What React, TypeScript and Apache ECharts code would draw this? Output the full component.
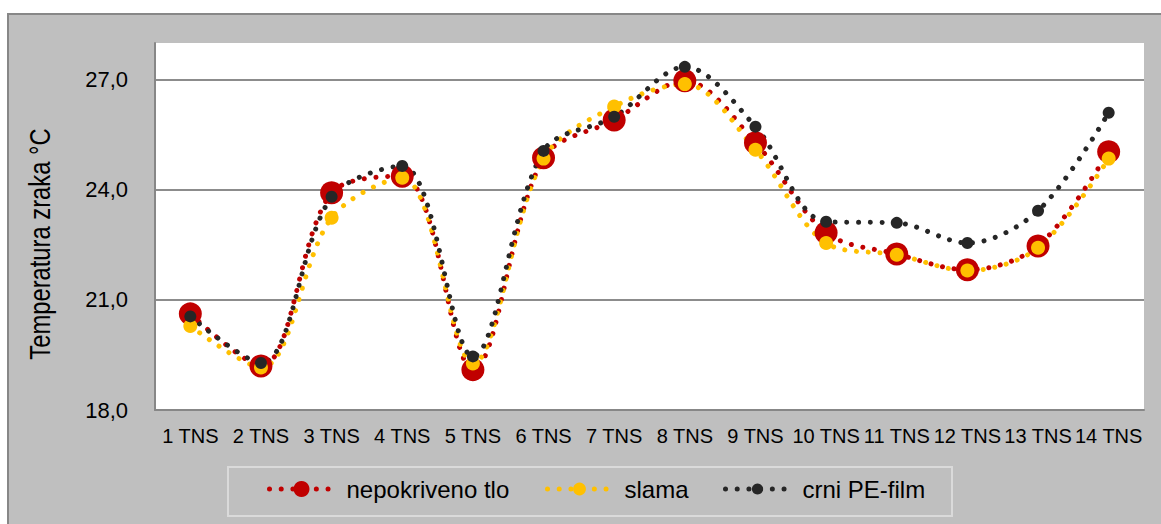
import React, { useEffect, useRef } from "react";
import * as echarts from "echarts";

const categories = ["1 TNS", "2 TNS", "3 TNS", "4 TNS", "5 TNS", "6 TNS", "7 TNS", "8 TNS", "9 TNS", "10 TNS", "11 TNS", "12 TNS", "13 TNS", "14 TNS"];
const nepokriveno = [20.62, 19.2, 23.92, 24.37, 19.1, 24.87, 25.9, 26.97, 25.28, 22.83, 22.25, 21.82, 22.47, 25.04];
const slama = [20.29, 19.16, 23.24, 24.33, 19.27, 24.85, 26.27, 26.88, 25.09, 22.55, 22.23, 21.8, 22.42, 24.85];
const crniPE = [20.55, 19.28, 23.81, 24.65, 19.46, 25.06, 25.99, 27.35, 25.72, 23.13, 23.1, 22.55, 23.43, 26.1];
const seriesNames = ["nepokriveno tlo", "slama", "crni PE-film"];
const seriesColors = ["#c00000", "#ffc000", "#262626"];
const yTitle = "Temperatura zraka °C";

const FONT = "'Liberation Sans', Arial, sans-serif";
const DOTS = [0.01, 11.7];

export default function App() {
  const ref = useRef<HTMLDivElement>(null);
  useEffect(() => {
    if (!ref.current) return;
    const chart = echarts.init(ref.current, undefined, { renderer: "svg" });
    const mk = (i: number, data: number[], size: number) => ({
      name: seriesNames[i],
      type: "line",
      data,
      smooth: 0.33,
      symbol: "circle",
      symbolSize: size,
      itemStyle: { color: seriesColors[i] },
      lineStyle: { color: seriesColors[i], width: 5, type: DOTS, cap: "round" },
      z: 3,
    });
    const legendItem = (i: number, left: number, itemHeight: number) => ({
      show: true,
      left,
      top: 477,
      padding: 0,
      itemWidth: 64,
      itemHeight,
      data: [seriesNames[i]],
      selectedMode: false,
      lineStyle: { width: 5, type: DOTS, cap: "round" },
      formatter: (n: string) => `{a|${n}}`,
      textStyle: {
        rich: {
          a: {
            fontFamily: FONT,
            fontSize: 24,
            color: "#000",
            padding: [0, 0, 0, 8],
            lineHeight: 28,
          },
        },
      },
    });
    chart.setOption({
      animation: false,
      graphic: [
        {
          type: "rect",
          shape: { x: 8, y: 14, width: 1200, height: 560 },
          style: { fill: "#bfbfbf", stroke: "#878787", lineWidth: 2 },
          z: -10,
          silent: true,
        },
        {
          type: "rect",
          shape: { x: 228, y: 467, width: 724, height: 49 },
          style: { fill: "none", stroke: "#dadada", lineWidth: 2 },
          z: 1,
          silent: true,
        },
        {
          type: "text",
          x: 40,
          y: 244,
          rotation: Math.PI / 2,
          scaleX: 0.82,
          style: {
            text: yTitle,
            fontFamily: FONT,
            fontSize: 29,
            fill: "#000",
            align: "center",
            verticalAlign: "middle",
          },
          z: 10,
        },
      ],
      grid: {
        left: 155,
        right: 17,
        top: 43,
        bottom: 114,
        show: true,
        backgroundColor: "#ffffff",
        borderWidth: 0,
      },
      legend: [legendItem(0, 267, 20), legendItem(1, 545, 16), legendItem(2, 723, 14)],
      xAxis: {
        type: "category",
        data: categories,
        boundaryGap: true,
        axisLine: { show: true, lineStyle: { color: "#878787", width: 2 } },
        axisTick: { show: false },
        axisLabel: {
          fontFamily: FONT,
          fontSize: 20,
          color: "#000",
          margin: 16,
          interval: 0,
        },
        splitLine: { show: false },
      },
      yAxis: {
        type: "value",
        min: 18,
        max: 28,
        interval: 3,
        axisLine: { show: true, lineStyle: { color: "#878787", width: 2 } },
        axisTick: { show: false },
        axisLabel: {
          fontFamily: FONT,
          fontSize: 22,
          color: "#000",
          margin: 27,
          formatter: (v: number) => (v > 27.5 ? "" : v.toFixed(1).replace(".", ",")),
        },
        splitLine: {
          show: true,
          showMaxLine: false,
          lineStyle: { color: "#8c8c8c", width: 2 },
        },
      },
      series: [mk(0, nepokriveno, 23), mk(1, slama, 14), mk(2, crniPE, 12)],
    });
    return () => chart.dispose();
  }, []);
  return (
    <div
      ref={ref}
      style={{ position: "absolute", left: 0, top: 0, width: 1161, height: 524, background: "#ffffff" }}
    />
  );
}
